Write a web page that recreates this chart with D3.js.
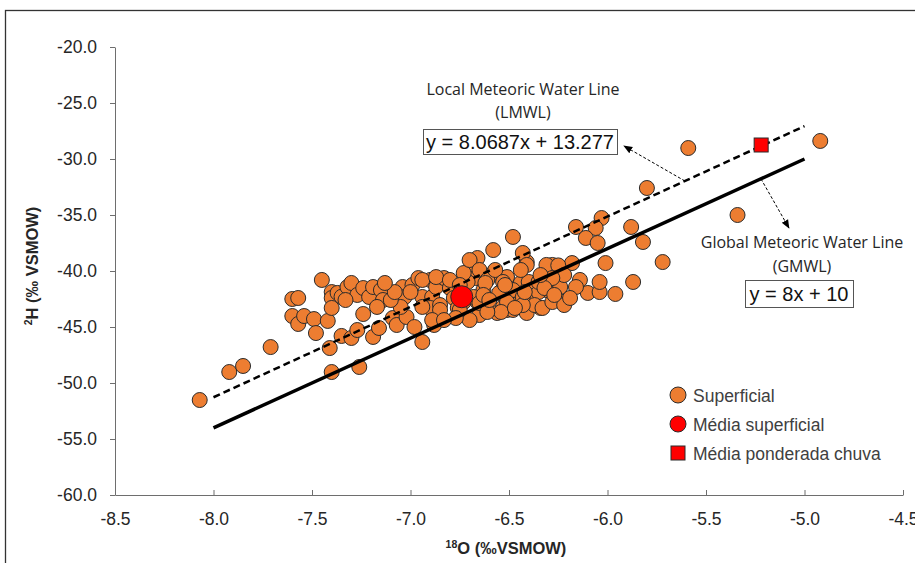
<!DOCTYPE html>
<html lang="pt">
<head>
<meta charset="utf-8">
<title>Isótopos</title>
<script src="https://d3js.org/d3.v7.min.js"></script>
<style>
  body { margin: 0; background: #fff; }
  text { font-family: "Liberation Sans", Arial, sans-serif; }
  .axis text { font-size: 17.5px; fill: #262626; }
  .axis path, .axis line { stroke: #6e6e6e; }
  .note { font-family: "Open Sans", "Noto Sans", sans-serif; font-size: 16px; fill: #262626; }
</style>
</head>
<body>
<script>
var width = 915, height = 563;

// amostras superficiais (d18O, d2H)
var o18 = [-8.07,-7.92,-7.85,-7.71,-7.45,-7.60,-7.57,-7.60,-7.57,-7.54,-7.49,-7.48,-7.42,-7.40,-7.40,-7.40,-7.41,-7.40,-7.26,-7.35,
  -7.30,-7.27,-7.19,-7.16,-7.24,-7.37,-7.35,-7.32,-7.30,-7.27,-7.24,-7.21,-7.19,-7.15,-7.14,-7.17,-7.09,-7.07,-7.04,-7.03,
  -7.02,-6.99,-6.98,-6.96,-6.94,-6.94,-6.90,-6.89,-6.90,-6.87,-6.83,-6.85,-6.88,-6.80,-6.78,-6.76,-6.73,-6.71,-6.68,-6.66,
  -6.67,-6.66,-6.71,-6.94,-7.05,-7.10,-6.94,-6.87,-6.80,-6.73,-6.70,-6.65,-6.58,-6.48,-6.41,-6.28,-6.18,-6.10,-6.14,-6.23,
  -6.34,-6.44,-6.51,-6.56,-6.65,-6.70,-6.75,-6.85,-6.89,-6.58,-6.51,-6.44,-6.38,-6.31,-6.24,-6.38,-6.55,-6.63,-6.68,-6.65,
  -6.53,-6.61,-6.48,-6.41,-6.03,-6.16,-6.06,-6.11,-6.05,-5.88,-6.43,-6.41,-6.31,-6.25,-6.01,-6.22,-6.28,-6.16,-6.04,-6.04,
  -5.96,-5.87,-6.57,-6.62,-6.63,-6.53,-6.48,-6.43,-6.51,-6.54,-6.61,-6.35,-6.37,-6.33,-6.28,-6.22,-6.40,-6.35,-6.32,-6.43,
  -6.47,-5.59,-4.92,-5.34,-5.80,-5.82,-5.72,-7.08,-7.00,-7.13,-6.77,-6.83,-6.60,-6.42,-6.27,-6.19,-6.52,-6.44,-6.34,-6.75,
  -7.33];
var h2 = [-51.52,-49.02,-48.48,-46.79,-40.80,-42.50,-42.41,-44.02,-44.73,-44.02,-44.29,-45.54,-44.46,-41.88,-42.41,-43.30,-46.88,-49.02,-48.57,-45.80,
  -45.98,-45.27,-45.89,-45.09,-43.84,-41.96,-42.30,-41.43,-41.07,-42.14,-41.52,-42.32,-41.43,-41.70,-42.59,-43.21,-44.20,-44.82,-41.43,-42.32,
  -44.11,-41.25,-45.00,-40.63,-42.32,-46.34,-40.80,-42.32,-43.30,-41.43,-40.63,-43.04,-44.82,-41.52,-42.41,-43.30,-42.77,-40.09,-39.46,-38.84,
  -40.63,-42.77,-40.98,-43.21,-43.21,-42.59,-40.80,-40.54,-40.80,-40.18,-39.02,-39.91,-38.13,-36.96,-39.20,-39.46,-39.29,-41.96,-40.80,-42.77,
  -43.30,-42.59,-43.48,-43.75,-43.93,-44.38,-43.48,-43.48,-44.38,-40.18,-40.54,-41.07,-41.52,-41.70,-41.43,-42.32,-41.96,-41.70,-42.32,-42.86,
  -43.21,-40.80,-43.48,-43.75,-35.27,-36.07,-36.16,-37.05,-37.50,-36.07,-38.39,-39.46,-39.46,-39.50,-39.29,-40.36,-40.63,-41.43,-41.88,-40.98,
  -42.05,-40.98,-39.91,-41.07,-42.14,-40.98,-41.70,-42.32,-42.77,-43.66,-43.66,-41.88,-43.04,-43.30,-42.77,-43.04,-40.98,-40.98,-41.52,-43.04,
  -43.30,-29.02,-28.39,-35.00,-32.59,-37.41,-39.20,-41.88,-41.88,-41.07,-44.20,-44.38,-42.59,-41.88,-42.14,-42.41,-41.25,-39.91,-40.36,-41.25,
  -42.59];

// médias
var meanO18 = -6.74, meanH2 = -42.3;
var rainO18 = -5.22, rainH2 = -28.75;

// retas meteóricas
var lineX = [-8, -5];
var gmwlSlope = 8, gmwlIcpt = 10;
var lmwlSlope = 8.0687, lmwlIcpt = 13.277;

var xTicks = [-8.5, -8, -7.5, -7, -6.5, -6, -5.5, -5, -4.5];
var yTicks = [-20, -25, -30, -35, -40, -45, -50, -55, -60];
var legendLabels = ["Superficial", "Média superficial", "Média ponderada chuva"];

var svg = d3.select("body").append("svg")
  .attr("width", width)
  .attr("height", height);

// moldura
svg.append("rect")
  .attr("x", 5.5).attr("y", 10.5)
  .attr("width", 1000).attr("height", 1000)
  .attr("fill", "none").attr("stroke", "#333").attr("stroke-width", 1.3);

var x = d3.scaleLinear().domain([-8.5, -4.5]).range([115, 903]);
var y = d3.scaleLinear().domain([-60, -20]).range([495, 47]);

var fmt = function(d) { return d.toFixed(1); };

svg.append("g").attr("class", "axis")
  .attr("transform", "translate(115,0)")
  .call(d3.axisLeft(y).tickValues(yTicks).tickFormat(fmt).tickSizeInner(5).tickSizeOuter(0).tickPadding(13))
  .call(function(g) { g.attr("font-family", null).attr("font-size", null); });

svg.append("g").attr("class", "axis")
  .attr("transform", "translate(0,495)")
  .call(d3.axisBottom(x).tickValues(xTicks).tickFormat(fmt).tickSizeInner(-5).tickSizeOuter(0).tickPadding(18))
  .call(function(g) { g.attr("font-family", null).attr("font-size", null); });

// títulos dos eixos
var yt = svg.append("text")
  .attr("transform", "translate(38,266) rotate(-90)")
  .attr("text-anchor", "middle")
  .attr("font-weight", "bold").attr("font-size", 16.5).attr("fill", "#262626");
yt.append("tspan").attr("font-size", 10.5).attr("dy", -6).text("2");
yt.append("tspan").attr("dy", 6).text("H (‰ VSMOW)");

var xt = svg.append("text")
  .attr("x", 506).attr("y", 554)
  .attr("text-anchor", "middle")
  .attr("font-weight", "bold").attr("font-size", 16.5).attr("fill", "#262626");
xt.append("tspan").attr("font-size", 10.5).attr("dy", -6).text("18");
xt.append("tspan").attr("dy", 6).text("O (‰VSMOW)");

// pontos
var pts = o18.map(function(d, i) { return [d, h2[i]]; });
svg.append("g").selectAll("circle")
  .data(pts)
  .enter().append("circle")
  .attr("cx", function(d) { return x(d[0]); })
  .attr("cy", function(d) { return y(d[1]); })
  .attr("r", 7.5)
  .attr("fill", "#ED7D31")
  .attr("stroke", "#2b2b2b")
  .attr("stroke-width", 1);

// LMWL tracejada, GMWL contínua
svg.append("line")
  .attr("x1", x(lineX[0])).attr("y1", y(lmwlSlope * lineX[0] + lmwlIcpt))
  .attr("x2", x(lineX[1])).attr("y2", y(lmwlSlope * lineX[1] + lmwlIcpt))
  .attr("stroke", "#000").attr("stroke-width", 2.5).attr("stroke-dasharray", "7,4");
svg.append("line")
  .attr("x1", x(lineX[0])).attr("y1", y(gmwlSlope * lineX[0] + gmwlIcpt))
  .attr("x2", x(lineX[1])).attr("y2", y(gmwlSlope * lineX[1] + gmwlIcpt))
  .attr("stroke", "#000").attr("stroke-width", 3.5);

// média superficial e média ponderada da chuva
svg.append("circle")
  .attr("cx", x(meanO18)).attr("cy", y(meanH2)).attr("r", 11)
  .attr("fill", "#FF0000").attr("stroke", "#2b2b2b").attr("stroke-width", 1);
svg.append("rect")
  .attr("x", x(rainO18) - 7).attr("y", y(rainH2) - 7)
  .attr("width", 14).attr("height", 14)
  .attr("fill", "#FF0000").attr("stroke", "#2b2b2b").attr("stroke-width", 1);

// setas das anotações
svg.append("defs").append("marker")
  .attr("id", "head").attr("viewBox", "0 0 10 10")
  .attr("refX", 9).attr("refY", 5)
  .attr("markerWidth", 9).attr("markerHeight", 9)
  .attr("orient", "auto")
  .append("path").attr("d", "M0,1 L10,5 L0,9 Z").attr("fill", "#000");

var aL = -5.607, aG = -5.221;
svg.append("line")
  .attr("x1", x(aL)).attr("y1", y(lmwlSlope * aL + lmwlIcpt))
  .attr("x2", x(-5.916)).attr("y2", y(-28.84))
  .attr("stroke", "#000").attr("stroke-width", 1).attr("stroke-dasharray", "3,2")
  .attr("marker-end", "url(#head)");
svg.append("line")
  .attr("x1", x(aG)).attr("y1", y(gmwlSlope * aG + gmwlIcpt))
  .attr("x2", x(-5.079)).attr("y2", y(-36.16))
  .attr("stroke", "#000").attr("stroke-width", 1).attr("stroke-dasharray", "3,2")
  .attr("marker-end", "url(#head)");

// textos das retas
svg.append("text").attr("class", "note").attr("x", 523).attr("y", 95).attr("text-anchor", "middle").text("Local Meteoric Water Line");
svg.append("text").attr("class", "note").attr("x", 523).attr("y", 118).attr("text-anchor", "middle").text("(LMWL)");
svg.append("rect").attr("x", 423.5).attr("y", 129.5).attr("width", 194).attr("height", 25)
  .attr("fill", "#fff").attr("stroke", "#555").attr("stroke-width", 1);
svg.append("text").attr("x", 520).attr("y", 149).attr("text-anchor", "middle")
  .attr("font-size", 20).attr("fill", "#111").text("y = 8.0687x + 13.277");

svg.append("text").attr("class", "note").attr("x", 802).attr("y", 248).attr("text-anchor", "middle").text("Global Meteoric Water Line");
svg.append("text").attr("class", "note").attr("x", 802).attr("y", 272).attr("text-anchor", "middle").text("(GMWL)");
svg.append("rect").attr("x", 745.5).attr("y", 280.5).attr("width", 108).attr("height", 27)
  .attr("fill", "#fff").attr("stroke", "#555").attr("stroke-width", 1);
svg.append("text").attr("x", 799).attr("y", 301).attr("text-anchor", "middle")
  .attr("font-size", 20).attr("fill", "#111").text("y = 8x + 10");

// legenda
var leg = svg.append("g").selectAll("g")
  .data(legendLabels)
  .enter().append("g")
  .attr("transform", function(d, i) { return "translate(678," + (395 + i * 29) + ")"; });
leg.each(function(d, i) {
  var g = d3.select(this);
  if (i < 2) {
    g.append("circle").attr("r", 8)
      .attr("fill", i === 0 ? "#ED7D31" : "#FF0000")
      .attr("stroke", "#2b2b2b").attr("stroke-width", 1);
  } else {
    g.append("rect").attr("x", -7).attr("y", -7).attr("width", 14).attr("height", 14)
      .attr("fill", "#FF0000").attr("stroke", "#2b2b2b").attr("stroke-width", 1);
  }
});
leg.append("text")
  .attr("x", 15).attr("y", 6.5)
  .attr("font-size", 17.5).attr("fill", "#404040")
  .text(function(d) { return d; });
</script>
</body>
</html>
